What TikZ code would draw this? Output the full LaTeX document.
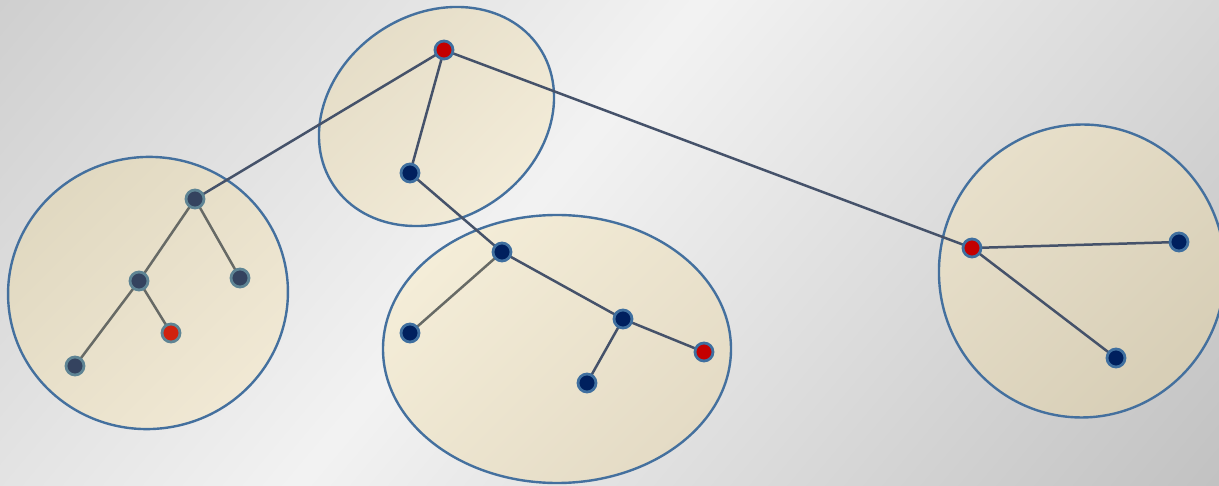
\documentclass[tikz,border=0pt]{standalone}
\definecolor{rimblue}{HTML}{44709E}
\definecolor{edgedark}{HTML}{45526A}
\definecolor{edgegrey}{HTML}{676A66}
\definecolor{navy}{HTML}{00205E}
\definecolor{navyring}{HTML}{3F6F9F}
\definecolor{slate}{HTML}{34435F}
\definecolor{slatering}{HTML}{5E8494}
\definecolor{redcore}{HTML}{C40000}
\definecolor{redcoreb}{HTML}{D0220E}
\pgfdeclarelayer{backdrop}
\pgfdeclarelayer{edges}
\pgfsetlayers{backdrop,edges,main}
\tikzset{
  cluster/.style={draw=rimblue, line width=2.4pt},
  link/.style={draw=edgedark, line width=2.5pt},
  greylink/.style={draw=edgegrey, line width=2.5pt},
  vtx/.style={circle, inner sep=0pt, minimum size=18pt, line width=2.8pt},
  bluevtx/.style={vtx, fill=navy, draw=navyring},
  slatevtx/.style={vtx, fill=slate, draw=slatering},
  rootvtx/.style={vtx, fill=redcore, draw=navyring},
  leafred/.style={vtx, fill=redcoreb, draw=slatering},
}
\begin{document}
\begin{tikzpicture}[x=1pt,y=-1pt]
\useasboundingbox (0,0) rectangle (1219,486);

\begin{pgfonlayer}{backdrop}
% diagonal light band across a grey backdrop
\begin{scope}
  \clip (0,0) rectangle (1219,486);
  \shade[top color=gray!50, bottom color=gray!52, middle color=gray!10, shading angle=50]
    (-400,-400) rectangle (1400,886);
\end{scope}

% clusters
\shade[cluster, top color={rgb,255:red,224;green,216;blue,192}, bottom color={rgb,255:red,241;green,233;blue,213}, shading angle=45]
  (148,293) ellipse [x radius=140pt, y radius=136pt, rotate=8];
\shade[cluster, top color={rgb,255:red,228;green,220;blue,198}, bottom color={rgb,255:red,244;green,237;blue,218}, shading angle=45]
  (436.5,116.5) ellipse [x radius=123.8pt, y radius=102.4pt, rotate=34];
\shade[cluster, top color={rgb,255:red,244;green,237;blue,216}, bottom color={rgb,255:red,228;green,219;blue,197}, shading angle=45]
  (557,349) ellipse [x radius=174pt, y radius=134pt];
\shade[cluster, top color={rgb,255:red,232;green,224;blue,203}, bottom color={rgb,255:red,215;green,206;blue,182}, shading angle=45]
  (1082,271) ellipse [x radius=143pt, y radius=146.5pt, rotate=-6];
\end{pgfonlayer}

% vertices
\node[slatevtx] (a1) at (195,199) {};
\node[slatevtx] (a2) at (139,281) {};
\node[slatevtx] (a3) at (240,278) {};
\node[slatevtx] (a4) at (75,366) {};
\node[leafred]  (a5) at (171,333) {};

\node[rootvtx]  (t1) at (444,50) {};
\node[bluevtx]  (t2) at (410,173) {};

\node[bluevtx]  (m1) at (502,252) {};
\node[bluevtx]  (m2) at (410,333) {};
\node[bluevtx]  (m3) at (623,319) {};
\node[bluevtx]  (m4) at (587,383) {};
\node[rootvtx]  (m5) at (704,352) {};

\node[rootvtx]  (r1) at (972,248) {};
\node[bluevtx]  (r2) at (1179,242) {};
\node[bluevtx]  (r3) at (1116,358) {};

% edges, kept beneath the vertices
\begin{pgfonlayer}{edges}
\path[link] (t1.center) -- (a1.center);
\path[link] (t1.center) -- (t2.center);
\path[link] (t1.center) -- (r1.center);
\path[link] (t2.center) -- (m1.center);
\path[link] (m1.center) -- (m3.center);
\path[link] (m3.center) -- (m4.center);
\path[link] (m3.center) -- (m5.center);
\path[link] (r1.center) -- (r2.center);
\path[link] (r1.center) -- (r3.center);
\path[greylink] (m1.center) -- (m2.center);
\path[greylink] (a1.center) -- (a2.center);
\path[greylink] (a1.center) -- (a3.center);
\path[greylink] (a2.center) -- (a4.center);
\path[greylink] (a2.center) -- (a5.center);
\end{pgfonlayer}
\end{tikzpicture}
\end{document}
